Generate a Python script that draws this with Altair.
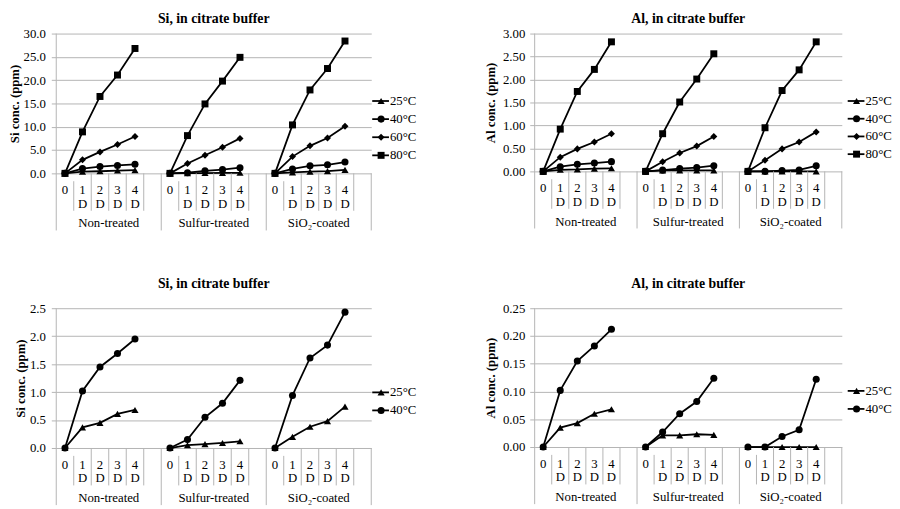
import altair as alt
import pandas as pd

FONT = "Liberation Serif, 'Times New Roman', Times, 'DejaVu Serif', serif"
GRID = "#b4b4b4"

groups = ["Non-treated", "Sulfur-treated", "SiO\u2082-coated"]
day_digits = ["0", "1", "2", "3", "4"]
day_units = ["", "D", "D", "D", "D"]
temps = ["25°C", "40°C", "60°C", "80°C"]
shapes = ["triangle-up", "circle", "diamond", "square"]
sizes = [52, 50, 34, 80]
SLOTS = 6  # 5 days + one empty slot per group

# values per group: [Non-treated, Sulfur-treated, SiO2-coated], days 0..4
si_25 = [[0, 0.37, 0.45, 0.61, 0.68], [0, 0.05, 0.07, 0.09, 0.12], [0, 0.20, 0.38, 0.48, 0.74]]
si_40 = [[0, 1.02, 1.45, 1.69, 1.95], [0, 0.15, 0.55, 0.80, 1.21], [0, 0.94, 1.61, 1.84, 2.43]]
si_60 = [[0, 2.9, 4.6, 6.2, 7.9], [0, 2.1, 3.9, 5.6, 7.5], [0, 3.6, 5.9, 7.6, 10.1]]
si_80 = [[0, 8.9, 16.5, 21.1, 26.8], [0, 8.1, 14.9, 19.8, 24.9], [0, 10.4, 17.9, 22.5, 28.4]]
al_25 = [[0, 0.035, 0.043, 0.060, 0.068], [0, 0.021, 0.021, 0.023, 0.022], [0, 0, 0, 0, 0]]
al_40 = [[0, 0.102, 0.155, 0.182, 0.212], [0, 0.027, 0.060, 0.082, 0.124], [0, 0, 0.019, 0.031, 0.122]]
al_60 = [[0, 0.31, 0.49, 0.64, 0.82], [0, 0.21, 0.40, 0.55, 0.76], [0, 0.24, 0.49, 0.64, 0.86]]
al_80 = [[0, 0.92, 1.74, 2.22, 2.82], [0, 0.82, 1.51, 2.01, 2.56], [0, 0.95, 1.76, 2.21, 2.82]]


def series_frame(series, tnames):
    rows = []
    for t, s in zip(tnames, series):
        for gi, g in enumerate(groups):
            for di, v in enumerate(s[gi]):
                rows.append({"temp": t, "key": f"{g}|{t}",
                             "pos": gi * SLOTS + di + 0.5, "value": v})
    return pd.DataFrame(rows)


slot_rows = []
for gi in range(len(groups)):
    for di in range(len(day_digits)):
        slot_rows.append({"pos": gi * SLOTS + di + 0.5,
                          "digit": day_digits[di], "unit": day_units[di]})
slot_df = pd.DataFrame(slot_rows)
group_df = pd.DataFrame({"pos": [gi * SLOTS + SLOTS / 2 for gi in range(len(groups))],
                         "group": groups})
axis_line_df = pd.DataFrame({"b": [0]})
long_df = pd.DataFrame({"b": [SLOTS * (gi + 1) for gi in range(len(groups))]})
first_df = pd.DataFrame({"b": [gi * SLOTS + 1 for gi in range(len(groups))]})
short_df = pd.DataFrame({"b": [gi * SLOTS + k for gi in range(len(groups)) for k in range(2, SLOTS)]})


def panel(title, ytitle, fmt, ymax, ystep, series, tnames, W, H,
          title_offset, label_pad, title_pad, leg_top, leg_step, leg_dx):
    df = series_frame(series, tnames)
    xs = alt.Scale(domain=[0, SLOTS * len(groups)], nice=False, zero=False)
    nt = int(round(ymax / ystep))
    ticks = [round(i * ystep, 4) for i in range(nt + 1)]
    ys = alt.Scale(domain=[0, ymax], nice=False, zero=True)
    shape_scale = alt.Scale(domain=temps, range=shapes)
    size_scale = alt.Scale(domain=temps, range=sizes)

    yaxis = alt.Axis(title=ytitle, format=fmt, values=ticks, tickCount=len(ticks),
                     grid=True, gridColor=GRID, gridWidth=1, domain=False, ticks=True,
                     tickColor=GRID, tickSize=5, labelFont=FONT, labelFontSize=13,
                     labelColor="black", labelPadding=label_pad, labelOverlap=False,
                     titleFont=FONT, titleFontSize=13, titleFontWeight="bold",
                     titleColor="black", titlePadding=title_pad)

    base = alt.Chart(df)
    lines = base.mark_line(color="black", strokeWidth=1.8).encode(
        x=alt.X("pos:Q", scale=xs, axis=None),
        y=alt.Y("value:Q", scale=ys, axis=yaxis),
        detail="key:N")
    pts = base.mark_point(filled=True, color="black", opacity=1).encode(
        x=alt.X("pos:Q", scale=xs, axis=None),
        y=alt.Y("value:Q", scale=ys, axis=yaxis),
        shape=alt.Shape("temp:N", scale=shape_scale, legend=None),
        size=alt.Size("temp:O", scale=size_scale, legend=None))

    def rules(d, y0, y1):
        return alt.Chart(d).mark_rule(color=GRID, strokeWidth=1).encode(
            x=alt.X("b:Q", scale=xs, axis=None),
            y=alt.value(y0), y2=alt.value(y1))

    sep = [rules(axis_line_df, 0, H + 58), rules(long_df, H, H + 58),
           rules(first_df, H + 8, H + 38), rules(short_df, H, H + 38)]

    txt = dict(font=FONT, fontSize=13, color="black", baseline="middle", align="center")
    digits = alt.Chart(slot_df).mark_text(**txt).encode(
        x=alt.X("pos:Q", scale=xs, axis=None), y=alt.value(H + 17), text="digit:N")
    units = alt.Chart(slot_df).mark_text(**txt).encode(
        x=alt.X("pos:Q", scale=xs, axis=None), y=alt.value(H + 31), text="unit:N")
    glabels = alt.Chart(group_df).mark_text(**txt).encode(
        x=alt.X("pos:Q", scale=xs, axis=None), y=alt.value(H + 51), text="group:N")

    main = alt.layer(lines, *sep, pts, digits, units, glabels)

    # legend rows: index mapped through a reversed linear scale
    n = len(tnames)
    d0 = -leg_top / leg_step
    d1 = d0 + H / leg_step
    ly = alt.Y("idx:Q", scale=alt.Scale(domain=[d0, d1], reverse=True, nice=False, zero=False),
               axis=None)
    leg_df = pd.DataFrame({"temp": tnames, "idx": list(range(n))})
    lb = alt.Chart(leg_df)
    leg = alt.layer(
        lb.mark_rule(color="black", strokeWidth=1.8).encode(
            x=alt.value(W + leg_dx), x2=alt.value(W + leg_dx + 17), y=ly),
        lb.mark_point(filled=True, color="black", opacity=1).encode(
            x=alt.value(W + leg_dx + 9), y=ly,
            shape=alt.Shape("temp:N", scale=shape_scale, legend=None),
            size=alt.Size("temp:O", scale=size_scale, legend=None)),
        lb.mark_text(font=FONT, fontSize=13, color="black", baseline="middle", align="left").encode(
            x=alt.value(W + leg_dx + 18), y=ly, text="temp:N"),
    )

    return alt.layer(main, leg).resolve_scale(y="independent").properties(
        width=W, height=H,
        title=alt.TitleParams(title, font=FONT, fontSize=14, fontWeight="bold",
                              color="black", anchor="middle", frame="group",
                              offset=title_offset))


tl = panel("Si, in citrate buffer", "Si conc.  (ppm)", ".1f", 30, 5,
           [si_25, si_40, si_60, si_80], temps, 320, 142, 2, 6, 2, 68.5, 18.4, 1)
tr = panel("Al, in citrate buffer", "Al conc.  (ppm)", ".2f", 3, 0.5,
           [al_25, al_40, al_60, al_80], temps, 312, 140, 2, 5, 5, 68.5, 18, 6)
bl = panel("Si, in citrate buffer", "Si conc.  (ppm)", ".1f", 2.5, 0.5,
           [si_25, si_40], temps[:2], 320, 142, 12, 6, 2, 85.5, 18.3, 1)
br = panel("Al, in citrate buffer", "Al conc.  (ppm)", ".2f", 0.25, 0.05,
           [al_25, al_40], temps[:2], 312, 141, 12, 5, 5, 84, 18.3, 6)

chart = alt.vconcat(
    alt.hconcat(tl, tr, spacing=69),
    alt.hconcat(bl, br, spacing=69),
    spacing=46,
).properties(padding=0).configure_view(stroke=None)

chart.save("out.html", embed_options={"renderer": "svg", "actions": False})
